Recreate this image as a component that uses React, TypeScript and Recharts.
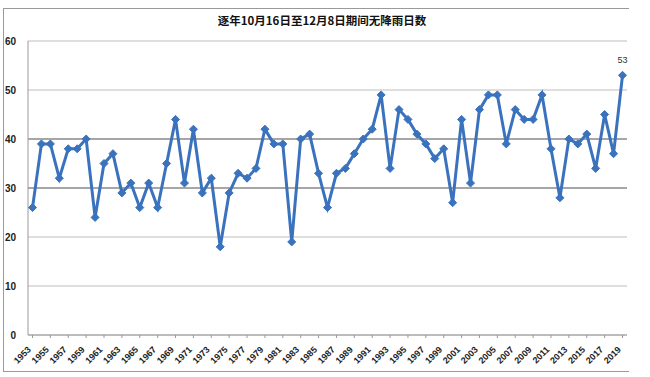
import React from "react";
import { LineChart, Line, XAxis, YAxis, CartesianGrid, ReferenceLine, LabelList } from "recharts";

const years: string[] = [
  "1953","1954","1955","1956","1957","1958","1959","1960","1961","1962",
  "1963","1964","1965","1966","1967","1968","1969","1970","1971","1972",
  "1973","1974","1975","1976","1977","1978","1979","1980","1981","1982",
  "1983","1984","1985","1986","1987","1988","1989","1990","1991","1992",
  "1993","1994","1995","1996","1997","1998","1999","2000","2001","2002",
  "2003","2004","2005","2006","2007","2008","2009","2010","2011","2012",
  "2013","2014","2015","2016","2017","2018","2019",
];

const dryDays: number[] = [
  26, 39, 39, 32, 38, 38, 40, 24, 35, 37,
  29, 31, 26, 31, 26, 35, 44, 31, 42, 29,
  32, 18, 29, 33, 32, 34, 42, 39, 39, 19,
  40, 41, 33, 26, 33, 34, 37, 40, 42, 49,
  34, 46, 44, 41, 39, 36, 38, 27, 44, 31,
  46, 49, 49, 39, 46, 44, 44, 49, 38, 28,
  40, 39, 41, 34, 45, 37, 53,
];

const yTicks: number[] = [0, 10, 20, 30, 40, 50, 60];
const title = "逐年10月16日至12月8日期间无降雨日数";

const data = years.map((y, i) => ({ year: y, days: dryDays[i] }));

const FONT = "'Liberation Sans', Arial, sans-serif";

const Diamond = (props: any) => {
  const { cx, cy } = props;
  if (cx == null || cy == null) return null;
  const r = 4;
  return (
    <polygon
      points={`${cx},${cy - r} ${cx + r},${cy} ${cx},${cy + r} ${cx - r},${cy}`}
      fill="#3a72bd"
      stroke="#3a72bd"
      strokeWidth={1}
    />
  );
};

const XTick = (props: any) => {
  const { x, y, payload } = props;
  return (
    <g transform={`translate(${x - 3},${y + 8}) rotate(-45)`}>
      <text x={0} y={0} dy={3} textAnchor="end" fontSize={9} fontWeight="bold" fill="#222" fontFamily={FONT}>
        {payload.value}
      </text>
    </g>
  );
};

const LastLabel = (props: any) => {
  const { x, y, index, value } = props;
  if (index !== dryDays.length - 1) return null;
  return (
    <text x={x} y={y - 12} textAnchor="middle" fontSize={9} fill="#333" fontFamily={FONT}>
      {value}
    </text>
  );
};

export default function App() {
  return (
    <div style={{ position: "absolute", left: 0, top: 0, width: 650, height: 377, background: "#fff" }}>
      <div
        style={{
          position: "absolute",
          left: 3,
          top: 8,
          width: 626,
          height: 364,
          borderLeft: "1px solid #9a9a9a",
          borderTop: "1px solid #9a9a9a",
          borderBottom: "1px solid #9a9a9a",
          boxSizing: "border-box",
        }}
      />
      <div
        style={{
          position: "absolute",
          left: 0,
          top: 12,
          width: 644,
          textAlign: "center",
          fontFamily: "'Noto Sans CJK SC', sans-serif",
          fontWeight: "bold",
          fontSize: 11.5,
          color: "#111",
        }}
      >
        {title}
      </div>
      <div style={{ position: "absolute", left: 0, top: 0 }}>
        <LineChart width={650} height={377} data={data} margin={{ top: 41, right: 23, left: 0, bottom: 0 }}>
          <CartesianGrid vertical={false} stroke="#bdbdbd" strokeWidth={1} />
          <ReferenceLine y={30} stroke="#6e6e6e" />
          <ReferenceLine y={40} stroke="#6e6e6e" />
          <XAxis
            dataKey="year"
            interval={1}
            height={42}
            padding={{ left: 4.5, right: 4.5 }}
            axisLine={{ stroke: "#9a9a9a" }}
            tickLine={{ stroke: "#9a9a9a" }}
            tickSize={3}
            tick={<XTick />}
          />
          <YAxis
            width={28}
            domain={[0, 60]}
            ticks={yTicks}
            axisLine={{ stroke: "#9a9a9a" }}
            tickLine={false}
            tick={{ fontSize: 10, fontWeight: "bold", fill: "#222", fontFamily: FONT }}
            tickMargin={6}
          />
          <Line
            type="linear"
            dataKey="days"
            stroke="#3a72bd"
            strokeWidth={3}
            dot={<Diamond />}
            activeDot={false}
            isAnimationActive={false}
          >
            <LabelList dataKey="days" content={<LastLabel />} />
          </Line>
        </LineChart>
      </div>
    </div>
  );
}
